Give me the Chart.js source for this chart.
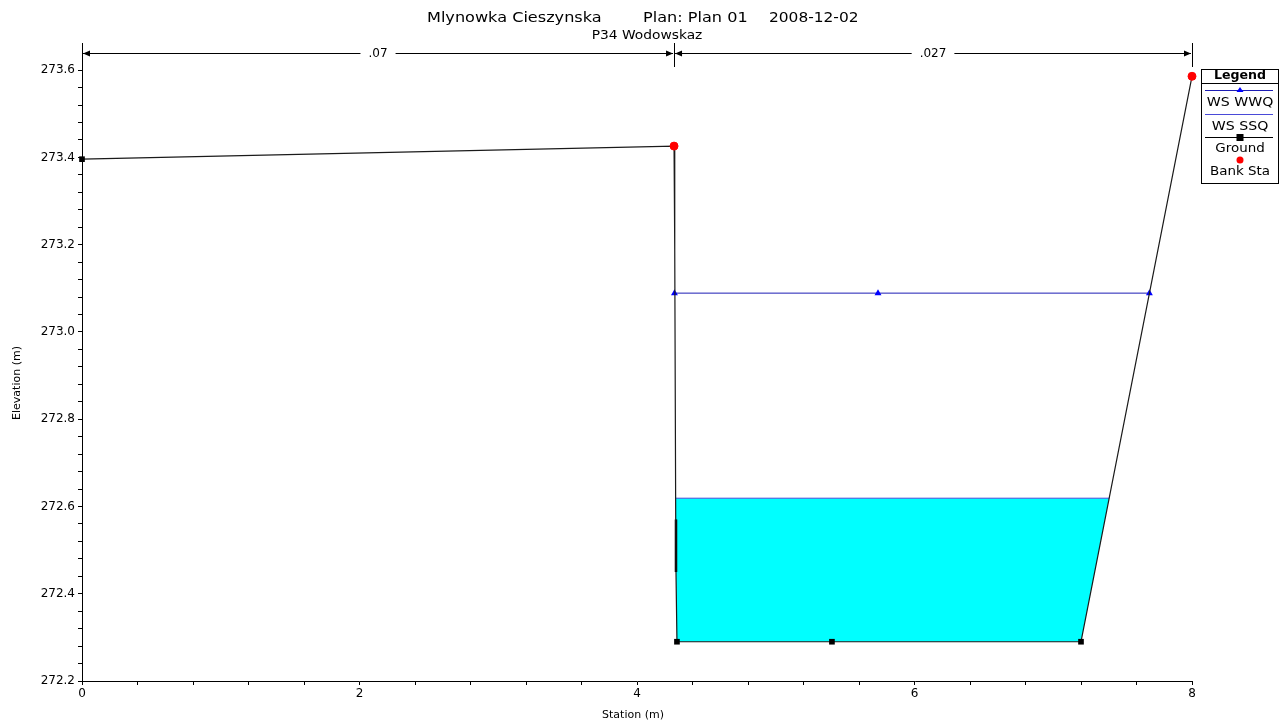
<!DOCTYPE html>
<html>
<head>
<meta charset="utf-8">
<script src="https://cdn.jsdelivr.net/npm/chart.js@4/dist/chart.umd.min.js"></script>
<style>
  html, body { margin: 0; padding: 0; background: #fff; }
  canvas { display: block; }
</style>
</head>
<body>
<canvas id="c" width="1282" height="722"></canvas>
<script>
// ---------------- DATA ----------------
const titleRiver = 'Mlynowka Cieszynska';
const titlePlan = 'Plan: Plan 01';
const titleDate = '2008-12-02';
const subtitleText = 'P34 Wodowskaz';
const xAxisTitle = 'Station (m)';
const yAxisTitle = 'Elevation (m)';

// Ground profile (station, elevation)
const groundStation = [0, 4.267, 4.272, 4.279, 4.281, 4.288, 5.405, 7.200, 8.000];
const groundElev    = [273.396, 273.426, 273.190, 272.570, 272.450, 272.290, 272.290, 272.290, 273.586];
const groundMarker  = [true, false, false, false, false, true, true, true, false];

// short heavy ground segment near left toe
const groundThickStation = [4.281, 4.281];
const groundThickElev    = [272.570, 272.450];

// Bank stations
const bankStation = [4.267, 8.000];
const bankElev    = [273.426, 273.586];

// Water surfaces
const wsWWQStation = [4.270, 5.737, 7.693];
const wsWWQElev    = 273.089;
const wsSSQStation = [4.280, 7.403];
const wsSSQElev    = 272.619;

// Manning's n regions
const nStations = [0, 4.267, 8];
const nLabels   = ['.07', '.027'];

// Axis ranges / ticks
const xMin = 0, xMax = 8, xMinorStep = 0.4, xMajorStep = 2;
const yMin = 272.2, yMax = 273.66, yMinorStep = 0.04, yMajorStep = 0.2;

// Legend entries
const legendTitle = 'Legend';
const legendNames = ['WS WWQ', 'WS SSQ', 'Ground', 'Bank Sta'];

// ---------------- STYLE ----------------
const FONT = 'DejaVu Sans';
const colWWQ = '#1c1cb4';
const colWWQMarker = '#0000ff';
const colSSQ = '#4a4ad8';
const colGround = '#1a1a1a';
const colBank = '#ff0000';
const colWater = '#00ffff';

// ---------------- BUILD ----------------
const pts = (xs, ys) => xs.map((x, i) => ({ x, y: Array.isArray(ys) ? ys[i] : ys }));
const groundPts = pts(groundStation, groundElev);

// water polygon: SSQ surface + ground points beneath it
const below = groundPts.filter(p => p.y < wsSSQElev && p.x >= wsSSQStation[0] && p.x <= wsSSQStation[1]);
const waterPoly = [
  { x: wsSSQStation[0], y: wsSSQElev },
  { x: wsSSQStation[1], y: wsSSQElev },
  ...below.slice().sort((a, b) => b.x - a.x)
];

const isMult = (v, step) => Math.abs(v / step - Math.round(v / step)) < 1e-6;

// draw text stretched horizontally by sx
function sText(ctx, text, x, y, sx, align) {
  ctx.save();
  ctx.translate(x, y);
  ctx.scale(sx, 1);
  ctx.textAlign = align;
  ctx.fillText(text, 0, 0);
  ctx.restore();
}

const overlay = {
  id: 'overlay',
  afterDraw(chart) {
    const { ctx, scales: { x, y } } = chart;
    ctx.save();
    // Titles
    ctx.fillStyle = '#000';
    ctx.textBaseline = 'middle';
    ctx.font = '14px "' + FONT + '"';
    sText(ctx, titleRiver, 427, 18, 1.15, 'left');
    sText(ctx, titlePlan, 643, 18, 1.15, 'left');
    sText(ctx, titleDate, 769, 18, 1.1, 'left');
    ctx.font = '12px "' + FONT + '"';
    sText(ctx, subtitleText, 647, 36, 1.15, 'center');

    // Axis titles
    ctx.font = '11px "' + FONT + '"';
    ctx.textAlign = 'center';
    ctx.fillText(xAxisTitle, 633, 715);
    ctx.save();
    ctx.translate(17, 383);
    ctx.rotate(-Math.PI / 2);
    ctx.fillText(yAxisTitle, 0, 0);
    ctx.restore();

    // Manning's n dimension lines
    const dimY = 53.5;
    ctx.strokeStyle = '#000';
    ctx.fillStyle = '#000';
    ctx.lineWidth = 1;
    nStations.forEach(s => {
      const px = Math.round(x.getPixelForValue(s)) + 0.5;
      ctx.beginPath();
      ctx.moveTo(px, 43);
      ctx.lineTo(px, 67);
      ctx.stroke();
    });
    ctx.font = '12px "' + FONT + '"';
    for (let i = 0; i < nLabels.length; i++) {
      const x0 = x.getPixelForValue(nStations[i]);
      const x1 = x.getPixelForValue(nStations[i + 1]);
      const mid = (x0 + x1) / 2;
      const tw = ctx.measureText(nLabels[i]).width + 16;
      ctx.beginPath();
      ctx.moveTo(x0 + 1, dimY); ctx.lineTo(mid - tw / 2, dimY);
      ctx.moveTo(mid + tw / 2, dimY); ctx.lineTo(x1 - 1, dimY);
      ctx.stroke();
      // arrowheads
      ctx.beginPath();
      ctx.moveTo(x0 + 1, dimY); ctx.lineTo(x0 + 8, dimY - 3); ctx.lineTo(x0 + 8, dimY + 3); ctx.closePath();
      ctx.moveTo(x1 - 1, dimY); ctx.lineTo(x1 - 8, dimY - 3); ctx.lineTo(x1 - 8, dimY + 3); ctx.closePath();
      ctx.fill();
      ctx.textAlign = 'center';
      ctx.fillText(nLabels[i], mid, dimY);
    }

    // Legend box
    const bx = 1201.5, by = 69.5, bw = 77, bh = 114;
    ctx.fillStyle = '#fff';
    ctx.fillRect(bx, by, bw, bh);
    ctx.strokeStyle = '#000';
    ctx.lineWidth = 1;
    ctx.strokeRect(bx, by, bw, bh);
    ctx.beginPath();
    ctx.moveTo(bx, 83.5); ctx.lineTo(bx + bw, 83.5);
    ctx.stroke();
    ctx.fillStyle = '#000';
    ctx.font = 'bold 12px "' + FONT + '"';
    const cx = bx + bw / 2;
    sText(ctx, legendTitle, cx, 76, 1.05, 'center');
    ctx.font = '12px "' + FONT + '"';
    const lx0 = 1205, lx1 = 1273;
    // WS WWQ
    ctx.strokeStyle = colWWQ;
    ctx.beginPath(); ctx.moveTo(lx0, 90.5); ctx.lineTo(lx1, 90.5); ctx.stroke();
    ctx.fillStyle = colWWQMarker;
    ctx.beginPath(); ctx.moveTo(cx, 87); ctx.lineTo(cx + 3.5, 92); ctx.lineTo(cx - 3.5, 92); ctx.closePath(); ctx.fill();
    ctx.fillStyle = '#000';
    sText(ctx, legendNames[0], cx, 103, 1.18, 'center');
    // WS SSQ
    ctx.strokeStyle = colSSQ;
    ctx.beginPath(); ctx.moveTo(lx0, 114.5); ctx.lineTo(lx1, 114.5); ctx.stroke();
    sText(ctx, legendNames[1], cx, 127, 1.18, 'center');
    // Ground
    ctx.strokeStyle = '#000';
    ctx.beginPath(); ctx.moveTo(lx0, 137.5); ctx.lineTo(lx1, 137.5); ctx.stroke();
    ctx.fillRect(cx - 3.5, 134, 7, 7);
    sText(ctx, legendNames[2], cx, 149, 1.12, 'center');
    // Bank Sta
    ctx.fillStyle = colBank;
    ctx.beginPath(); ctx.arc(cx, 160, 3.5, 0, Math.PI * 2); ctx.fill();
    ctx.fillStyle = '#000';
    sText(ctx, legendNames[3], cx, 172, 1.12, 'center');
    ctx.restore();
  }
};

const tickFont = { family: FONT, size: 12 };

new Chart(document.getElementById('c'), {
  type: 'scatter',
  data: {
    datasets: [
      {
        label: legendNames[3],
        data: pts(bankStation, bankElev),
        showLine: false,
        pointStyle: 'circle',
        pointRadius: 4,
        pointBackgroundColor: colBank,
        pointBorderColor: colBank,
        clip: false,
        order: 0
      },
      {
        label: legendNames[2],
        data: groundPts,
        showLine: true,
        borderColor: colGround,
        borderWidth: 1.2,
        pointStyle: 'rect',
        pointRadius: groundMarker.map(m => (m ? 4 : 0)),
        pointBackgroundColor: '#000',
        pointBorderColor: '#000',
        pointBorderWidth: 0,
        tension: 0,
        clip: false,
        order: 1
      },
      {
        label: 'ground-thick',
        data: pts(groundThickStation, groundThickElev),
        showLine: true,
        borderColor: '#000',
        borderWidth: 2.5,
        pointRadius: 0,
        order: 1
      },
      {
        label: legendNames[0],
        data: pts(wsWWQStation, wsWWQElev),
        showLine: true,
        borderColor: colWWQ,
        borderWidth: 1,
        pointStyle: 'triangle',
        pointRadius: 4,
        pointBackgroundColor: colWWQMarker,
        pointBorderColor: colWWQMarker,
        pointBorderWidth: 0,
        order: 2
      },
      {
        label: legendNames[1],
        data: pts(wsSSQStation, wsSSQElev),
        showLine: true,
        borderColor: colSSQ,
        borderWidth: 1,
        pointRadius: 0,
        order: 3
      },
      {
        label: 'water',
        data: waterPoly,
        showLine: true,
        borderWidth: 0,
        borderColor: 'rgba(0,0,0,0)',
        backgroundColor: colWater,
        fill: 'shape',
        pointRadius: 0,
        order: 4
      }
    ]
  },
  options: {
    responsive: false,
    animation: false,
    devicePixelRatio: 1,
    layout: { padding: { top: 44, right: 90, left: 0, bottom: 0 } },
    plugins: {
      legend: { display: false },
      tooltip: { enabled: false },
      title: { display: false }
    },
    scales: {
      x: {
        type: 'linear',
        min: xMin, max: xMax,
        ticks: {
          stepSize: xMinorStep,
          autoSkip: false,
          includeBounds: false,
          maxRotation: 0,
          color: '#000',
          font: tickFont,
          padding: 2,
          callback: v => (isMult(v, xMajorStep) ? String(Math.round(v)) : '')
        },
        grid: { drawOnChartArea: false, tickLength: 4, color: '#000' },
        border: { color: '#000', width: 1 },
        afterFit: s => { s.height = 41; }
      },
      y: {
        type: 'linear',
        min: yMin, max: yMax,
        ticks: {
          stepSize: yMinorStep,
          autoSkip: false,
          includeBounds: false,
          color: '#000',
          font: tickFont,
          padding: 3,
          callback: v => (isMult(v, yMajorStep) ? v.toFixed(1) : '')
        },
        grid: {
          drawOnChartArea: false,
          tickLength: 4,
          color: c => (c.tick && c.tick.value > 273.61 ? 'rgba(0,0,0,0)' : '#000')
        },
        border: { color: '#000', width: 1 },
        afterFit: s => { s.width = 82; }
      }
    }
  },
  plugins: [overlay]
});
</script>
</body>
</html>
